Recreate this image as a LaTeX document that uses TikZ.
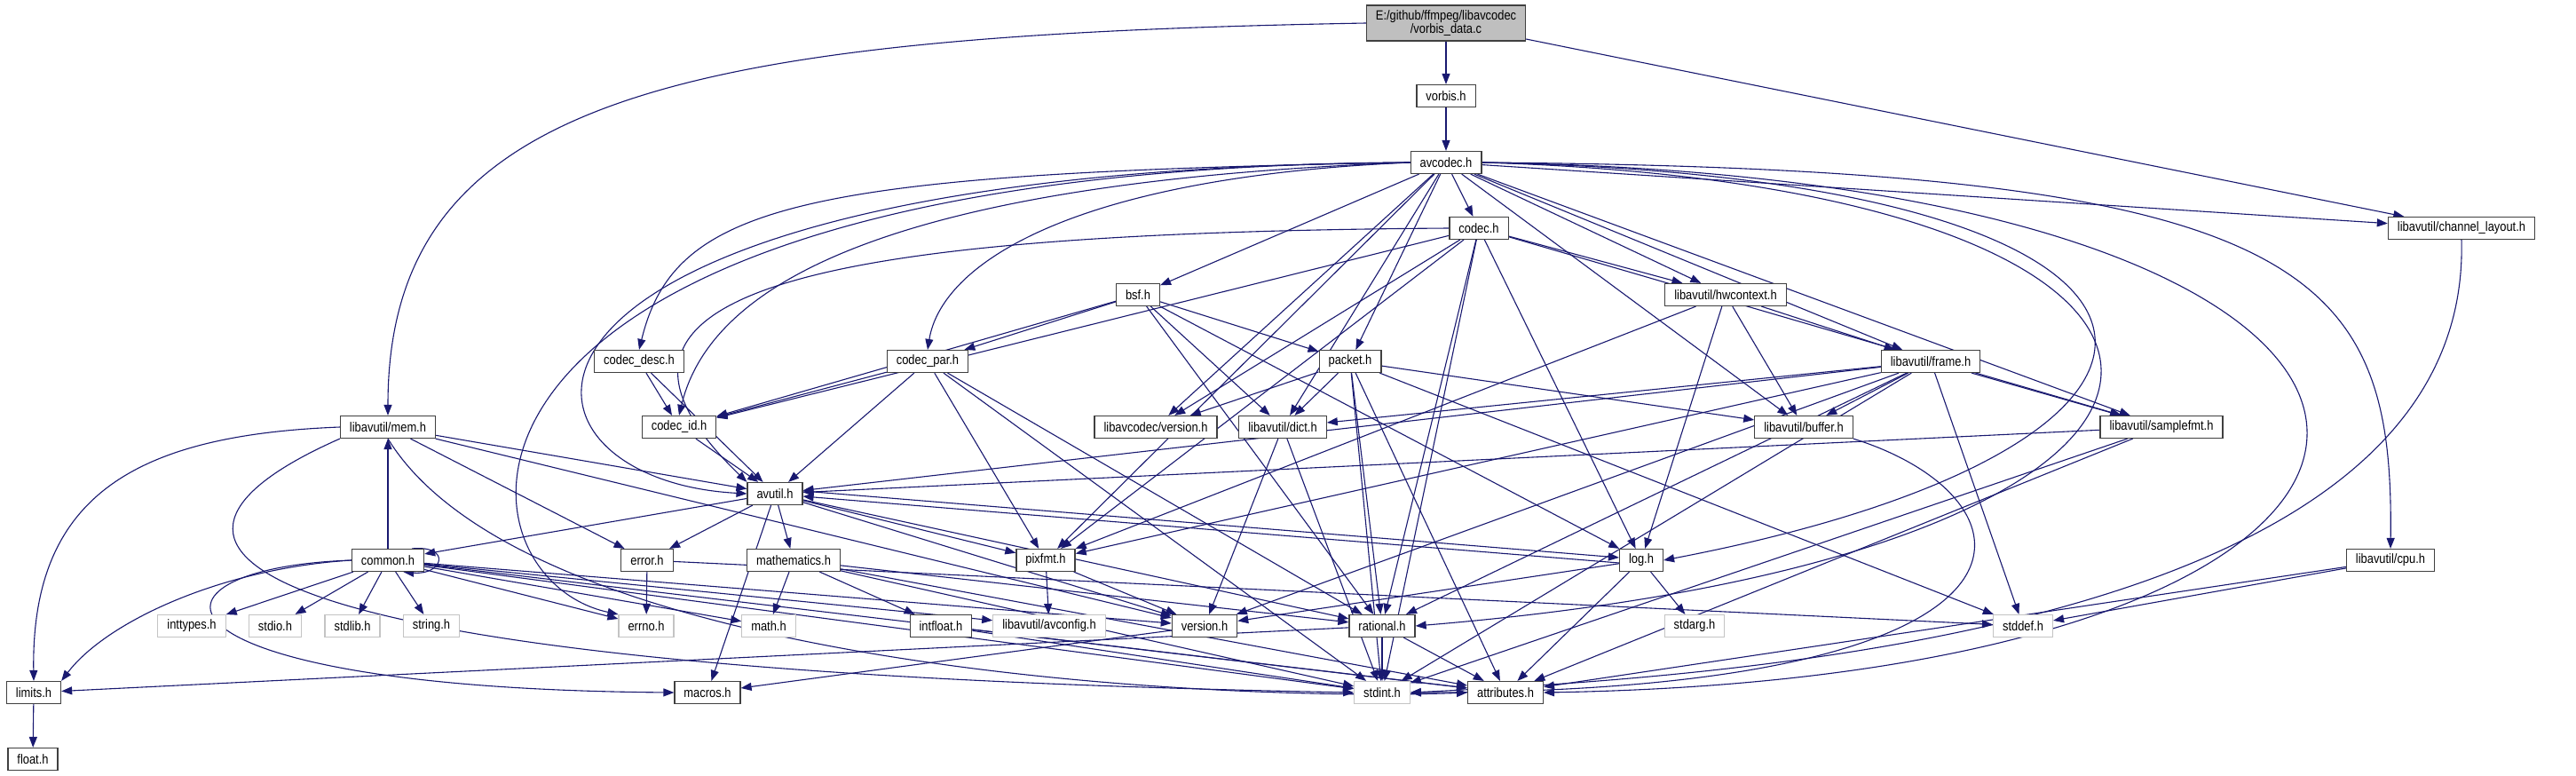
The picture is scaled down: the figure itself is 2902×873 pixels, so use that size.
\documentclass[tikz,border=0pt]{standalone}
\usepackage{fontspec}
\setmainfont{Liberation Sans}[FakeStretch=0.86]
\usetikzlibrary{arrows.meta,backgrounds}
\definecolor{edgeblue}{RGB}{25,25,112}
\definecolor{rootgray}{RGB}{191,191,191}
\definecolor{sysgray}{RGB}{196,196,196}
\definecolor{boxline}{RGB}{64,64,64}
\tikzset{
  hfile/.style={rectangle, draw=boxline, line width=1.2pt, fill=white, minimum height=25pt,
                inner xsep=10.5pt, inner ysep=0pt, font=\fontsize{15}{16}\selectfont},
  sysfile/.style={hfile, draw=sysgray},
  rootfile/.style={hfile, fill=rootgray, align=center, minimum height=40pt,
                   font=\fontsize{15}{15}\selectfont},
  dep/.style={-{Triangle[length=12pt,width=9pt]}, line width=1.1pt, edgeblue},
}
\begin{document}
\begin{tikzpicture}[x=1pt,y=-1pt]
% headers, top to bottom
\node[rootfile] (vdata) at (1629,26) {E:/github/ffmpeg/libavcodec\\/vorbis\_data.c};
\node[hfile] (vorbis) at (1629,108) {vorbis.h};
\node[hfile] (avcodec) at (1629,183) {avcodec.h};
\node[hfile] (codec) at (1666,257) {codec.h};
\node[hfile] (chlayout) at (2773,257) {libavutil/channel\_layout.h};
\node[hfile] (bsf) at (1282,332) {bsf.h};
\node[hfile] (hwctx) at (1944,332) {libavutil/hwcontext.h};
\node[hfile] (codecdesc) at (720,407) {codec\_desc.h};
\node[hfile] (codecpar) at (1045,407) {codec\_par.h};
\node[hfile] (packet) at (1521,407) {packet.h};
\node[hfile] (frame) at (2175,407) {libavutil/frame.h};
\node[hfile] (mem) at (437,481) {libavutil/mem.h};
\node[hfile] (codecid) at (765,481) {codec\_id.h};
\node[hfile] (lavcver) at (1302,481) {libavcodec/version.h};
\node[hfile] (dict) at (1445,481) {libavutil/dict.h};
\node[hfile] (buffer) at (2032,481) {libavutil/buffer.h};
\node[hfile] (samplefmt) at (2435,481) {libavutil/samplefmt.h};
\node[hfile] (avutil) at (873,556) {avutil.h};
\node[hfile] (common) at (437,631) {common.h};
\node[hfile] (error) at (729,631) {error.h};
\node[hfile] (mathem) at (894,631) {mathematics.h};
\node[hfile] (pixfmt) at (1178,631) {pixfmt.h};
\node[hfile] (log) at (1849,631) {log.h};
\node[hfile] (cpu) at (2693,631) {libavutil/cpu.h};
\node[sysfile] (inttypes) at (216,705) {inttypes.h};
\node[sysfile] (stdio) at (310,705) {stdio.h};
\node[sysfile] (stdlib) at (397,705) {stdlib.h};
\node[sysfile] (string) at (486,705) {string.h};
\node[sysfile] (errno) at (728,705) {errno.h};
\node[sysfile] (math) at (866,705) {math.h};
\node[hfile] (intfloat) at (1060,705) {intfloat.h};
\node[sysfile] (avconfig) at (1182,705) {libavutil/avconfig.h};
\node[hfile] (version) at (1357,705) {version.h};
\node[hfile] (rational) at (1557,705) {rational.h};
\node[sysfile] (stdarg) at (1909,705) {stdarg.h};
\node[sysfile] (stddef) at (2279,705) {stddef.h};
\node[hfile] (limits) at (38,780) {limits.h};
\node[hfile] (macros) at (797,780) {macros.h};
\node[sysfile] (stdint) at (1557,780) {stdint.h};
\node[hfile] (attrib) at (1696,780) {attributes.h};
\node[hfile] (float) at (37,855) {float.h};

\begin{scope}[on background layer]
\fill[white] (0,0) rectangle (2902,873);
% vorbis_data.c
\draw[dep] (vdata) -- (vorbis);
\draw[dep] (vdata) -- (chlayout);
\draw[dep] (vdata.west) .. controls (760,40) and (437,110) .. (mem.north);
\draw[dep] (vorbis) -- (avcodec);

% avcodec.h
\foreach \t in {codec,hwctx,packet,bsf,dict,lavcver,pixfmt,buffer,frame,samplefmt,chlayout}
  \draw[dep] (avcodec) -- (\t);
\draw[dep] (avcodec.west) .. controls (900,195) and (760,230) .. (codecdesc.north);
\draw[dep] (avcodec.west) .. controls (1200,200) and (1060,300) .. (codecpar.north);
\draw[dep] (avcodec.west) .. controls (1000,205) and (800,320) .. (codecid.north);
\draw[dep] (avcodec.west) .. controls (500,190) and (540,540) .. (avutil.west);
\draw[dep] (avcodec.west) .. controls (440,190) and (500,650) .. (errno.north west);
\draw[dep] (avcodec.east) .. controls (2600,190) and (2697,300) .. (cpu.north);
\draw[dep] (avcodec.east) .. controls (2540,200) and (2560,500) .. (log.east);
\draw[dep] (avcodec.east) .. controls (2600,210) and (2620,620) .. (rational.east);
\draw[dep] (avcodec.east) .. controls (2895,200) and (2895,760) .. (attrib.east);

% codec.h and friends
\foreach \t in {stdint,hwctx,log,pixfmt,rational,samplefmt,codecid,lavcver}
  \draw[dep] (codec) -- (\t);
\draw[dep] (codec.west) .. controls (900,262) and (620,330) .. (avutil.north west);
\foreach \t in {dict,log,rational,codecid,codecpar,packet}
  \draw[dep] (bsf) -- (\t);
\foreach \t in {stdint,avutil,rational,pixfmt,codecid}
  \draw[dep] (codecpar) -- (\t);
\foreach \t in {avutil,codecid}
  \draw[dep] (codecdesc) -- (\t);
\draw[dep] (codecid) -- (avutil);
\foreach \t in {stddef,stdint,attrib,buffer,dict,rational,lavcver}
  \draw[dep] (packet) -- (\t);
\foreach \t in {buffer,frame,log,pixfmt}
  \draw[dep] (hwctx) -- (\t);
\foreach \t in {stddef,stdint,avutil,buffer,dict,rational,samplefmt,pixfmt,version}
  \draw[dep] (frame) -- (\t);
\draw[dep] (buffer.south east) .. controls (2300,560) and (2350,780) .. (stdint.east);
\foreach \t in {stdint,version}
  \draw[dep] (dict) -- (\t);
\foreach \t in {stdint,avutil,attrib}
  \draw[dep] (samplefmt) -- (\t);
\draw[dep] (chlayout.south) .. controls (2785,700) and (2000,760) .. (stdint.east);
\foreach \t in {stddef,attrib}
  \draw[dep] (cpu) -- (\t);

% libavutil core
\foreach \t in {common,error,version,mathem,rational,pixfmt,macros}
  \draw[dep] (avutil) -- (\t);
\draw[dep] ([yshift=3pt]avutil.east) -- ([yshift=3pt]log.west);
\draw[dep] ([yshift=-3pt]log.west) -- ([yshift=-3pt]avutil.east);
\foreach \t in {errno,inttypes,stdio,stdlib,string,math,stdint,attrib,version,avconfig,mem}
  \draw[dep] (common) -- (\t);
\draw[dep] (common.west) .. controls (250,640) and (120,700) .. (limits.north east);
\draw[dep] (common.west) .. controls (140,640) and (150,775) .. (macros.west);
\draw[dep] ([xshift=-14pt]common.north east) .. controls +(45,-4) and +(45,4) .. ([xshift=-24pt]common.south east);
\foreach \t in {error,avutil,version}
  \draw[dep] (mem) -- (\t);
\draw[dep] (mem.west) .. controls (150,490) and (35,560) .. (limits.north);
\draw[dep] (mem.south west) .. controls (120,610) and (200,755) .. (stdint.west);
\draw[dep] (mem.south) .. controls (600,760) and (1400,790) .. (attrib.west);
\foreach \t in {errno,stddef}
  \draw[dep] (error) -- (\t);
\foreach \t in {stdint,math,attrib,rational,intfloat}
  \draw[dep] (mathem) -- (\t);
\foreach \t in {stdint,attrib}
  \draw[dep] (intfloat) -- (\t);
\foreach \t in {stdint,limits,attrib}
  \draw[dep] (rational) -- (\t);
\foreach \t in {stdarg,attrib,version}
  \draw[dep] (log) -- (\t);
\foreach \t in {avconfig,version}
  \draw[dep] (pixfmt) -- (\t);
\draw[dep] (version) -- (macros);
\draw[dep] (limits) -- (float);
\end{scope}
\useasboundingbox (0,0) rectangle (2902,873);
\end{tikzpicture}
\end{document}
